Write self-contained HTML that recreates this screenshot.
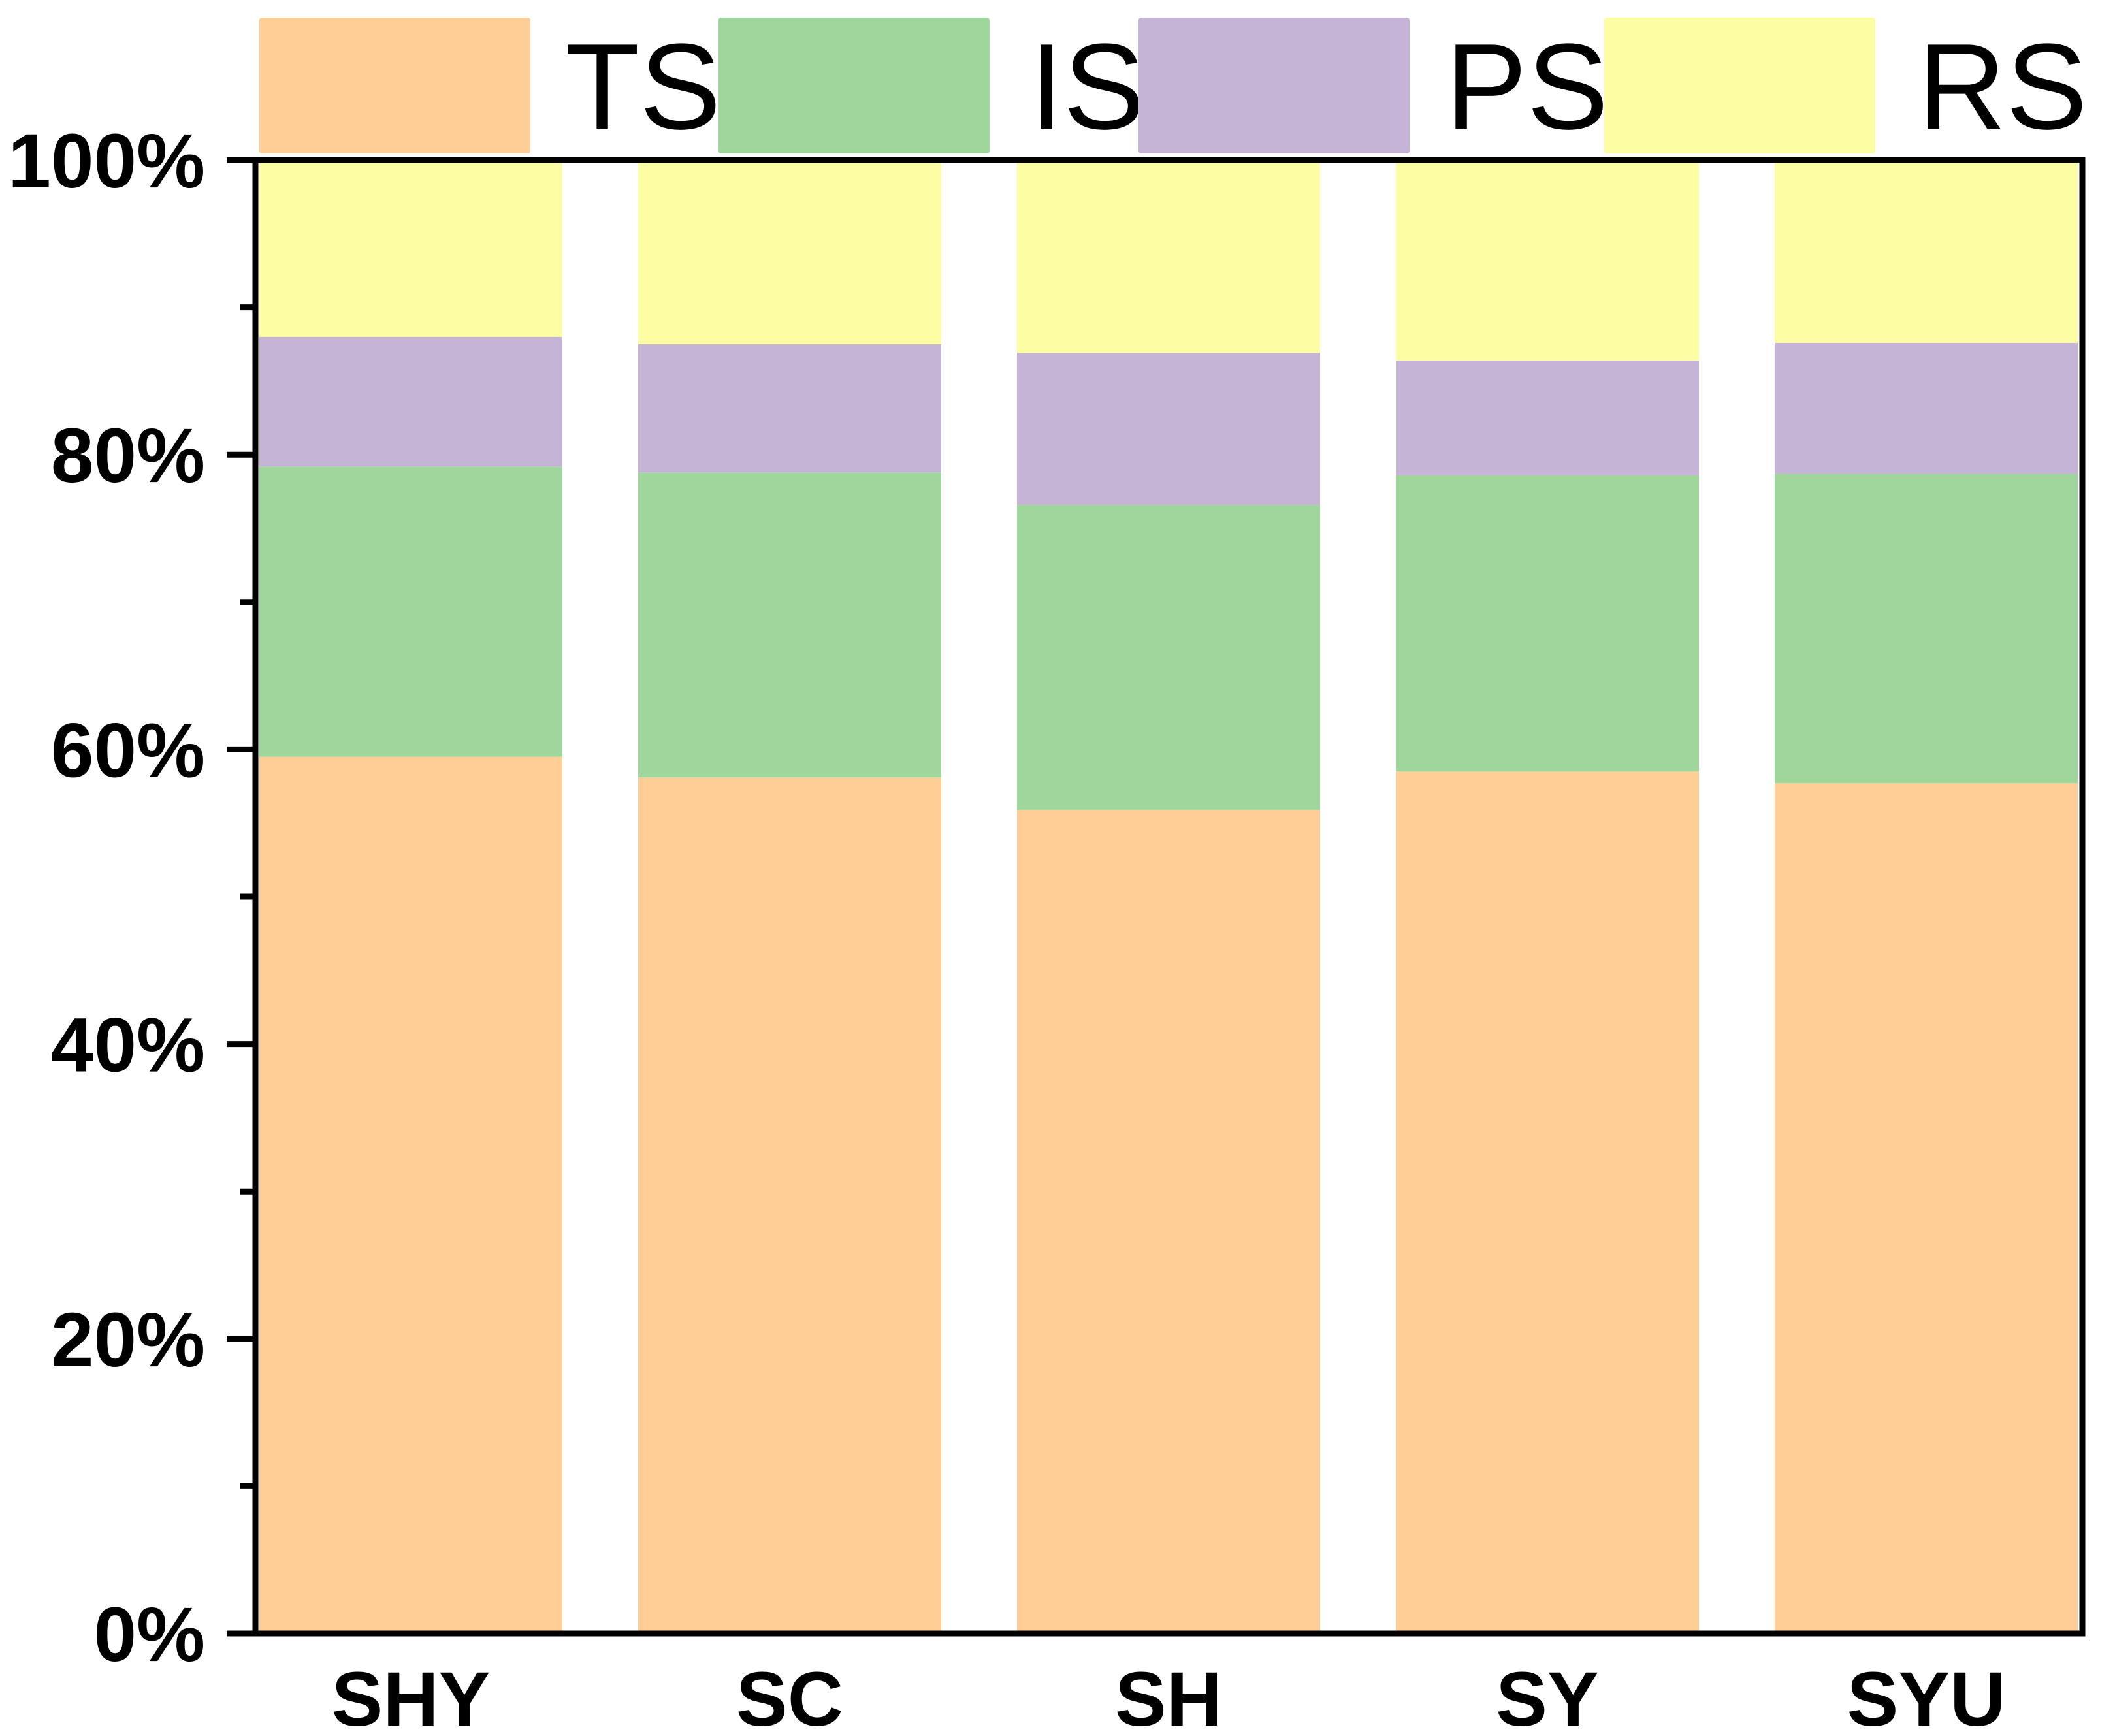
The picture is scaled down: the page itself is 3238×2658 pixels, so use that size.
<!DOCTYPE html>
<html><head><meta charset="utf-8"><style>
html,body{margin:0;padding:0;background:#fff;}
svg{display:block;}
</style></head><body>
<svg id="chart" width="3238" height="2658" viewBox="0 0 3238 2658" xmlns="http://www.w3.org/2000/svg">
<g id="bars"></g>
<g id="axes"></g>
<g id="legend"></g>
</svg>
<script>
const categories = ["SHY","SC","SH","SY","SYU"];
const seriesNames = ["TS","IS","PS","RS"];
const tsValues = [59.5, 58.1, 55.9, 58.5, 57.7];
const isValues = [19.7, 20.7, 20.7, 20.1, 21.0];
const psValues = [8.8, 8.7, 10.3, 7.8, 8.9];
const rsValues = [12.0, 12.5, 13.1, 13.6, 12.4];
const yTickLabels = ["0%","20%","40%","60%","80%","100%"];
const yTickValues = [0,20,40,60,80,100];
const yMinorValues = [10,30,50,70,90];

const colors = ["#fecd95","#9fd69c","#c6b4d6","#fdfda3"];
const NS = "http://www.w3.org/2000/svg";
const plotL = 391, plotR = 3188, plotT = 245, plotB = 2501;
const firstBarL = 397, step = 580, barW = 464;
function yScale(v){ return plotB - (v/100)*(plotB-plotT); }
function xBand(i){ return firstBarL + i*step; }
function mk(tag, attrs, parent){ const e=document.createElementNS(NS,tag); for(const k in attrs) e.setAttribute(k,attrs[k]); parent.appendChild(e); return e; }

const series = [tsValues, isValues, psValues, rsValues];
const barsG = document.getElementById('bars');
categories.forEach((c,i)=>{
  let cum = 0;
  series.forEach((s,j)=>{
    let v = s[i];
    if (j === series.length-1) v = 100 - cum;
    const y0 = yScale(cum), y1 = yScale(cum+v);
    const r = mk('rect',{x:xBand(i),y:y1,width:barW,height:y0-y1,fill:colors[j]},barsG);
    
    
    cum += v;
  });
});

const axG = document.getElementById('axes');
const frame = mk('rect',{x:plotL,y:plotT,width:plotR-plotL,height:plotB-plotT,fill:'none',stroke:'#000','stroke-width':9},axG);


yTickValues.forEach((v,k)=>{
  const y = yScale(v);
  const t = mk('line',{x1:347,x2:plotL,y1:y,y2:y,stroke:'#000','stroke-width':9},axG);
  
  
  const tx = mk('text',{x:314,y:y+42,'text-anchor':'end','font-family':'Liberation Sans, sans-serif','font-weight':'bold','font-size':118},axG);
  tx.textContent = yTickLabels[k];
  
  
});
yMinorValues.forEach(v=>{
  const y = yScale(v);
  const t = mk('line',{x1:368,x2:plotL,y1:y,y2:y,stroke:'#000','stroke-width':9},axG);
  
  
});
categories.forEach((c,i)=>{
  const tx = mk('text',{x:xBand(i)+barW/2,y:2642,'text-anchor':'middle','font-family':'Liberation Sans, sans-serif','font-weight':'bold','font-size':118},axG);
  tx.textContent = c;
  
  
});

const legG = document.getElementById('legend');
const legBoxX = [397, 1100, 1743, 2456];
const legTextX = [865, 1576, 2213, 2936];
seriesNames.forEach((n,j)=>{
  const r = mk('rect',{x:legBoxX[j],y:27,width:415,height:208,rx:4,fill:colors[j]},legG);
  
  
  const tx = mk('text',{x:legTextX[j],y:197,'font-family':'Liberation Sans, sans-serif','font-size':187},legG);
  tx.textContent = n;
  
  
});
</script>
</body></html>
